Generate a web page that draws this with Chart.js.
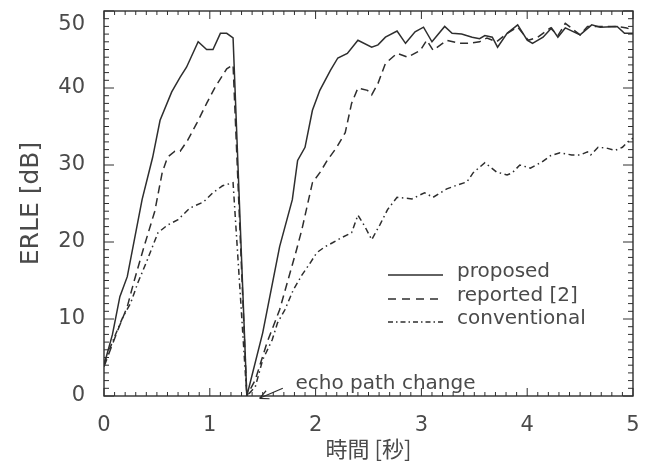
<!DOCTYPE html>
<html>
<head>
<meta charset="utf-8">
<script src="https://cdn.jsdelivr.net/npm/chart.js@4.4.0/dist/chart.umd.min.js"></script>
<style>
html, body { margin: 0; padding: 0; background: #fff; }
</style>
</head>
<body>
<canvas id="grafik" width="650" height="473"></canvas>
<script>
// data: time [s] and ERLE [dB]
var tProposed = [0, 0.08, 0.15, 0.22, 0.36, 0.46, 0.53, 0.64, 0.72, 0.78, 0.89, 0.97, 1.03, 1.10, 1.16, 1.22, 1.35,
    1.50, 1.66, 1.78, 1.83, 1.90, 1.97, 2.04, 2.14, 2.21, 2.30, 2.40, 2.53, 2.59, 2.66, 2.77, 2.85, 2.94, 3.02, 3.10, 3.22,
    3.29, 3.38, 3.48, 3.55, 3.60, 3.67, 3.72, 3.81, 3.91, 4.00, 4.05, 4.15, 4.23, 4.29, 4.36, 4.50, 4.61, 4.69, 4.85, 4.92, 5.00];
var vProposed = [4, 8, 12.9, 15.5, 25.5, 31, 35.8, 39.5, 41.4, 42.7, 46, 45, 45, 47.1, 47.1, 46.5, 0,
    8.2, 19.4, 25.5, 30.6, 32.3, 37.1, 39.7, 42.3, 43.9, 44.5, 46.2, 45.3, 45.6, 46.6, 47.4, 45.8, 47.3, 47.9, 46, 48,
    47.1, 47, 46.6, 46.4, 46.8, 46.6, 45.3, 47.1, 48.2, 46.2, 45.8, 46.6, 47.8, 46.6, 47.8, 46.9, 48.2, 47.9, 48, 47.1, 47.1];

var tReported = [0, 0.12, 0.22, 0.28, 0.37, 0.48, 0.55, 0.60, 0.67, 0.72, 0.79, 0.88, 0.97, 1.05, 1.16, 1.22, 1.35,
    1.43, 1.54, 1.66, 1.74, 1.82, 1.87, 1.97, 2.04, 2.11, 2.20, 2.28, 2.34, 2.40, 2.49, 2.53, 2.59, 2.66, 2.77, 2.87,
    2.99, 3.05, 3.11, 3.24, 3.36, 3.46, 3.55, 3.62, 3.71, 3.81, 3.91, 4.01, 4.10, 4.22, 4.29, 4.36, 4.50, 4.57, 4.69,
    4.85, 4.94, 5.00];
var vReported = [3.8, 8.2, 11.6, 14.7, 19, 24, 29, 31, 31.8, 31.8, 33.2, 35.5, 38, 40.1, 42.5, 43, 0,
    2.1, 6.9, 11.2, 15.1, 19, 21.6, 27.7, 29, 30.6, 32.3, 34.2, 38, 40, 39.7, 39.1, 40.6, 43.2, 44.5, 44,
    44.9, 46.2, 44.9, 46.2, 45.8, 45.8, 46, 46.5, 46, 47.1, 47.9, 46.2, 46.6, 47.8, 46.8, 48.4, 46.9, 48, 48,
    48, 47.8, 47.5];

var tConventional = [0, 0.10, 0.18, 0.25, 0.32, 0.41, 0.51, 0.60, 0.70, 0.81, 0.94, 1.03, 1.12, 1.22, 1.35,
    1.43, 1.50, 1.59, 1.64, 1.71, 1.79, 1.87, 1.95, 2.01, 2.09, 2.16, 2.25, 2.34, 2.40, 2.47, 2.53, 2.61, 2.68, 2.77,
    2.91, 3.03, 3.11, 3.24, 3.34, 3.43, 3.49, 3.60, 3.71, 3.81, 3.86, 3.93, 4.03, 4.14, 4.22, 4.31, 4.42, 4.50, 4.57,
    4.60, 4.67, 4.75, 4.83, 4.90, 4.95, 5.00];
var vConventional = [4.3, 7.7, 10.3, 12, 14.7, 17.7, 21.2, 22.2, 22.9, 24.4, 25.2, 26.4, 27.3, 27.7, 0,
    1.2, 4.7, 7.3, 9.5, 11.2, 13.8, 15.7, 17.3, 18.6, 19.4, 19.9, 20.6, 21.2, 23.5, 21.9, 20.3, 22.3, 24.2, 25.8,
    25.6, 26.4, 25.8, 26.9, 27.4, 27.8, 29, 30.3, 29.1, 28.7, 29, 30, 29.6, 30.4, 31.2, 31.6, 31.3, 31.3, 31.7,
    31.3, 32.3, 32.2, 31.9, 32.3, 33, 33.5];

var seriesLabels = ["proposed", "reported [2]", "conventional"];
var xTicks = [0, 1, 2, 3, 4, 5];
var yTicks = [0, 10, 20, 30, 40, 50];

var lineColor = "#2e2e2e";
var textColor = "#4a4a4a";
var baseFont = "'DejaVu Sans', sans-serif";
var yMax = 50;

function toPoints(ts, vs) {
    return ts.map(function (t, i) { return { x: t, y: vs[i] }; });
}

// frame, inward ticks on all four sides, legend and annotation
var frameTicks = {
    id: "frameTicks",
    afterDatasetsDraw: function (chart) {
        var ctx = chart.ctx, a = chart.chartArea;
        var xs = chart.scales.x, ys = chart.scales.y;
        ctx.save();
        ctx.strokeStyle = lineColor;
        ctx.lineWidth = 1.4;
        ctx.strokeRect(a.left, a.top, a.right - a.left, a.bottom - a.top);

        ctx.lineWidth = 1;
        ctx.beginPath();
        for (var i = 0; i <= 50; i++) {
            var px = xs.getPixelForValue(i / 10);
            var len = (i % 10 === 0) ? 8 : 4;
            ctx.moveTo(px, a.bottom); ctx.lineTo(px, a.bottom - len);
            ctx.moveTo(px, a.top); ctx.lineTo(px, a.top + len);
        }
        for (var j = 0; j <= 50; j++) {
            var py = ys.getPixelForValue(j);
            var len2 = (j % 10 === 0) ? 10 : 5;
            ctx.moveTo(a.left, py); ctx.lineTo(a.left + len2, py);
            ctx.moveTo(a.right, py); ctx.lineTo(a.right - len2, py);
        }
        ctx.stroke();

        // top y label sits just below its tick in the original
        ctx.font = "21px " + baseFont;
        ctx.fillStyle = textColor;
        ctx.textAlign = "right";
        ctx.textBaseline = "middle";
        ctx.fillText(String(yMax), a.left - 19, ys.getPixelForValue(yMax) + 14);

        // legend inside the plot
        var rows = [275, 299, 322];
        ctx.font = "20px " + baseFont;
        ctx.textAlign = "left";
        ctx.textBaseline = "alphabetic";
        chart.data.datasets.forEach(function (ds, k) {
            ctx.save();
            ctx.lineWidth = 1.4;
            ctx.strokeStyle = lineColor;
            ctx.setLineDash(ds.legendDash || []);
            ctx.beginPath();
            ctx.moveTo(388, rows[k]);
            ctx.lineTo(443, rows[k]);
            ctx.stroke();
            ctx.restore();
            ctx.fillText(ds.label, 457, rows[k] + 2);
        });

        // echo path change arrow
        var tipX = xs.getPixelForValue(1.47), tipY = ys.getPixelForValue(-0.3);
        var tailX = xs.getPixelForValue(1.69), tailY = ys.getPixelForValue(1.0);
        var ang = Math.atan2(tipY - tailY, tipX - tailX);
        ctx.lineWidth = 1.2;
        ctx.beginPath();
        ctx.moveTo(tailX, tailY); ctx.lineTo(tipX, tipY);
        ctx.moveTo(tipX, tipY);
        ctx.lineTo(tipX - 10 * Math.cos(ang - 0.45), tipY - 10 * Math.sin(ang - 0.45));
        ctx.moveTo(tipX, tipY);
        ctx.lineTo(tipX - 10 * Math.cos(ang + 0.45), tipY - 10 * Math.sin(ang + 0.45));
        ctx.stroke();
        ctx.fillText("echo path change", xs.getPixelForValue(1.81), ys.getPixelForValue(0.9));
        ctx.restore();
    }
};

var ctxChart = document.getElementById("grafik").getContext("2d");
var myChart = new Chart(ctxChart, {
    type: "line",
    data: {
        datasets: [
            {
                label: seriesLabels[0],
                data: toPoints(tProposed, vProposed),
                borderColor: lineColor,
                borderWidth: 1.5,
                legendDash: []
            },
            {
                label: seriesLabels[1],
                data: toPoints(tReported, vReported),
                borderColor: lineColor,
                borderWidth: 1.5,
                borderDash: [8, 5],
                legendDash: [8, 6]
            },
            {
                label: seriesLabels[2],
                data: toPoints(tConventional, vConventional),
                borderColor: lineColor,
                borderWidth: 1.5,
                borderDash: [6, 3.5, 1.5, 3.5],
                legendDash: [5, 3, 1.5, 3]
            }
        ]
    },
    options: {
        responsive: false,
        animation: false,
        elements: { point: { radius: 0 }, line: { tension: 0 } },
        layout: { padding: { top: 11, right: 17, left: 0, bottom: 0 } },
        plugins: { legend: { display: false }, tooltip: { enabled: false } },
        scales: {
            x: {
                type: "linear",
                min: 0,
                max: 5,
                afterFit: function (scale) {
                    scale.height = 77;
                    scale.paddingLeft = 0;
                    scale.paddingRight = 0;
                },
                afterBuildTicks: function (scale) { scale.ticks = xTicks.map(function (v) { return { value: v }; }); },
                grid: { display: false, drawTicks: false },
                border: { display: false },
                ticks: { color: textColor, padding: 17, font: { family: baseFont, size: 21 } },
                title: {
                    display: true,
                    text: "時間 [秒]",
                    color: textColor,
                    padding: { top: 0, bottom: 11 },
                    font: { family: "'Noto Sans CJK JP', sans-serif", size: 22 }
                }
            },
            y: {
                min: 0,
                max: yMax,
                afterFit: function (scale) {
                    scale.width = 104;
                    scale.paddingTop = 0;
                    scale.paddingBottom = 0;
                },
                afterBuildTicks: function (scale) { scale.ticks = yTicks.map(function (v) { return { value: v }; }); },
                grid: { display: false, drawTicks: false },
                border: { display: false },
                ticks: {
                    color: textColor,
                    padding: 19,
                    font: { family: baseFont, size: 21 },
                    // top label is drawn by the plugin, a bit lower
                    callback: function (v) { return v === yMax ? "" : v; }
                },
                title: {
                    display: true,
                    text: "ERLE [dB]",
                    color: textColor,
                    padding: { top: 16, bottom: 0 },
                    font: { family: baseFont, size: 25 }
                }
            }
        }
    },
    plugins: [frameTicks]
});
</script>
</body>
</html>
